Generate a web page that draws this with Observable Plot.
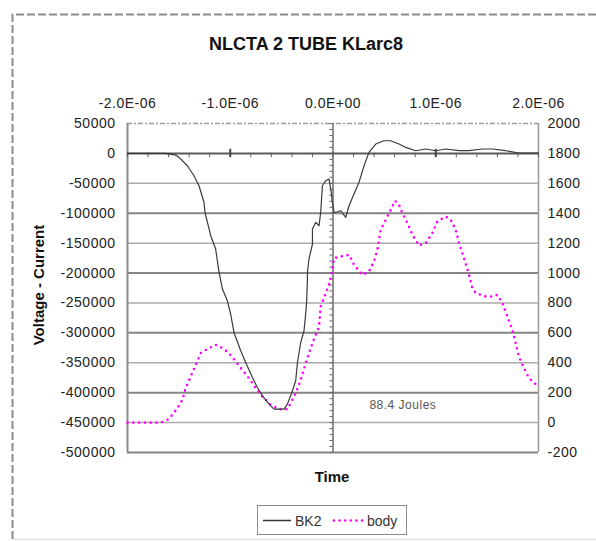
<!DOCTYPE html>
<html><head><meta charset="utf-8">
<script src="https://cdn.jsdelivr.net/npm/d3@7"></script>
<script src="https://cdn.jsdelivr.net/npm/@observablehq/plot@0.6"></script>
<style>
html,body{margin:0;padding:0;background:#fff;}
#wrap{position:relative;width:596px;height:541px;overflow:hidden;font-family:"Liberation Sans",Arial,sans-serif;color:#111;}
#wrap > svg{position:absolute;left:0;top:0;}
.abs{position:absolute;white-space:nowrap;}
#chart svg text{letter-spacing:0.5px;}
</style></head><body>
<div id="wrap">
  <svg id="border" width="596" height="541" style="position:absolute;left:0;top:0">
    <path d="M12.5,539 L12.5,14.5 L600,14.5" fill="none" stroke="#8c8c8c" stroke-width="2" stroke-dasharray="8 3"/>
    <path d="M12.5,539.5 L600,539.5" fill="none" stroke="#dcdcdc" stroke-width="1"/>
  </svg>
  <div id="chart"></div>
  <div class="abs" id="title" style="left:306px;top:34px;transform:translateX(-50%);font-weight:bold;font-size:18px;">NLCTA 2 TUBE KLarc8</div>
  <div class="abs" id="ylab" style="left:38px;top:285px;transform:translate(-50%,-50%) rotate(-90deg);font-weight:bold;font-size:15px;">Voltage - Current</div>
  <div class="abs" id="xlab" style="left:332px;top:468px;transform:translateX(-50%);font-weight:bold;font-size:15px;">Time</div>
  <div class="abs" id="legend" style="left:257px;top:505px;width:148px;height:28px;border:1.5px solid #8a8a8a;font-size:14px;">
    <svg width="148" height="28" style="position:absolute;left:0;top:0">
      <line x1="5" x2="33" y1="14.5" y2="14.5" stroke="#333" stroke-width="1.5"/>
      <line x1="76" x2="105" y1="14.5" y2="14.5" stroke="#ff00ff" stroke-width="2.6" stroke-dasharray="0 5.6" stroke-linecap="round"/>
      <text x="37" y="19.5" font-size="14" fill="#333">BK2</text>
      <text x="109" y="19.5" font-size="14" fill="#333">body</text>
    </svg>
  </div>
</div>
<script>
// ---- data (time in microseconds) ----
const bk2Time = [-2.0,-1.774,-1.63,-1.528,-1.499,-1.417,-1.353,-1.304,-1.255,-1.246,-1.19,-1.142,-1.109,-1.076,-1.028,-0.996,-0.964,-0.898,-0.85,-0.784,-0.736,-0.687,-0.623,-0.574,-0.477,-0.444,-0.412,-0.395,-0.363,-0.346,-0.314,-0.282,-0.266,-0.256,-0.249,-0.249,-0.234,-0.2,-0.2,-0.168,-0.136,-0.12,-0.103,-0.071,-0.039,-0.022,-0.006,0.01,0.026,0.075,0.124,0.156,0.204,0.253,0.302,0.35,0.416,0.496,0.562,0.642,0.707,0.805,0.902,1.0,1.097,1.226,1.324,1.454,1.551,1.681,1.81,2.0];
const bk2Value = [0,0,0,-3000,-6700,-20600,-37300,-54000,-82000,-98700,-137600,-159900,-199000,-226700,-246300,-268600,-299300,-329900,-349500,-374600,-391300,-405200,-419100,-427400,-427400,-419100,-405200,-396800,-380100,-349500,-316100,-296500,-268600,-246300,-212900,-199000,-176600,-151500,-126400,-115400,-120900,-98700,-54000,-45700,-42800,-59500,-81900,-98700,-98700,-95800,-107000,-87500,-67900,-48500,-20600,1700,15700,21200,21200,15700,10000,4500,7400,4500,7400,4500,4500,7400,7400,4500,700,700];

const bodyTime = [-2.0,-1.677,-1.612,-1.563,-1.514,-1.466,-1.434,-1.385,-1.336,-1.288,-1.207,-1.142,-1.076,-1.012,-0.947,-0.882,-0.818,-0.752,-0.687,-0.606,-0.526,-0.444,-0.412,-0.363,-0.314,-0.266,-0.2,-0.136,-0.12,-0.071,-0.039,-0.022,0.01,0.075,0.156,0.204,0.286,0.35,0.399,0.432,0.464,0.513,0.562,0.603,0.642,0.675,0.724,0.773,0.837,0.902,0.967,1.016,1.097,1.146,1.194,1.226,1.275,1.324,1.357,1.389,1.486,1.551,1.6,1.649,1.697,1.746,1.778,1.81,1.859,1.908,1.99];
const bodyValue = [0,0,18,52,96,152,230,308,386,464,498,520,498,464,408,352,297,230,174,118,90,90,130,197,286,397,531,642,776,866,921,966,1100,1110,1122,1055,988,1010,1077,1155,1289,1356,1423,1483,1456,1401,1334,1256,1184,1200,1267,1345,1378,1356,1289,1200,1100,988,899,866,843,843,854,799,709,620,531,441,364,297,245];

const timeTicks = [-2e-6, -1e-6, 0, 1e-6, 2e-6];
const leftTicks = [50000,0,-50000,-100000,-150000,-200000,-250000,-300000,-350000,-400000,-450000,-500000];
const rightTicks = [2000,1800,1600,1400,1200,1000,800,600,400,200,0,-200];
const annotation = [{t: 0.68e-6, v: -421000, label: "88.4 Joules"}];

// ---- tables ----
const US = 1e-6;
const bk2 = bk2Time.map((t,i) => ({t: t*US, v: bk2Value[i]}));
const leftMin = leftTicks[leftTicks.length-1], leftMax = leftTicks[0];
const rightMin = rightTicks[rightTicks.length-1], rightMax = rightTicks[0];
const toLeft = b => leftMin + (b - rightMin) * (leftMax - leftMin) / (rightMax - rightMin);
const toRight = v => rightMin + (v - leftMin) * (rightMax - rightMin) / (leftMax - leftMin);
const body = bodyTime.map((t,i) => ({t: t*US, v: toLeft(bodyValue[i])}));

function fmtE(d){
  if (Math.abs(d) < 1e-15) return "0.0E+00";
  const e = Math.floor(Math.log10(Math.abs(d)) + 1e-9);
  const m = d / Math.pow(10, e);
  return m.toFixed(1) + "E" + (e < 0 ? "-" : "+") + String(Math.abs(e)).padStart(2, "0");
}

const darkGrid = leftTicks.filter(d => d < 0 && d % 100000 === 0);
const lightGrid = leftTicks.filter(d => d < 0 && d % 100000 !== 0);
const minorY = d3.range(leftMin, leftMax + 1, 10000);
const minorX = d3.range(-20, 21, 2).map(k => k * 0.1 * US);

const chart = Plot.plot({
  width: 596, height: 541,
  marginLeft: 127, marginRight: 58, marginTop: 123, marginBottom: 89,
  style: {fontFamily: "'Liberation Sans', Arial, sans-serif", fontSize: "14px", color: "#222", background: "transparent"},
  x: {domain: [timeTicks[0], timeTicks[timeTicks.length-1]]},
  y: {domain: [leftMin, leftMax]},
  marks: [
    Plot.ruleY(lightGrid, {stroke: "#ababab", strokeWidth: 1.5}),
    Plot.ruleY(darkGrid, {stroke: "#858585", strokeWidth: 2}),
    Plot.ruleY([leftMax], {stroke: "#9a9a9a", strokeWidth: 1.5, strokeDasharray: "5 2 2 2"}),
    Plot.ruleX([timeTicks[0]], {stroke: "#8a8a8a", strokeWidth: 2}),
    Plot.ruleX([timeTicks[timeTicks.length-1]], {stroke: "#9a9a9a", strokeWidth: 1.5}),
    Plot.ruleX([0], {stroke: "#6a6a6a", strokeWidth: 1.5}),
    Plot.ruleY(minorY, {x1: -0.03 * US, x2: 0, stroke: "#6a6a6a", strokeWidth: 1}),
    Plot.ruleY([0], {stroke: "#5a5a5a", strokeWidth: 2}),
    Plot.ruleX(minorX, {y1: 0, y2: -7000, stroke: "#5a5a5a", strokeWidth: 1}),
    Plot.ruleX([-1e-6, 1e-6], {y1: 7000, y2: -7000, stroke: "#444", strokeWidth: 2}),
    Plot.line(body, {x: "t", y: "v", stroke: "#ff00ff", strokeWidth: 2.6, strokeDasharray: "0 5.8", strokeLinecap: "round"}),
    Plot.line(bk2, {x: "t", y: "v", stroke: "#3a3a3a", strokeWidth: 1.2}),
    Plot.text(annotation, {x: "t", y: "v", text: "label", fill: "#555", fontSize: 12}),
    Plot.axisX({anchor: "top", ticks: timeTicks, tickFormat: fmtE, tickSize: 0, tickPadding: 16, label: null}),
    Plot.axisY({anchor: "left", ticks: leftTicks, tickFormat: d => String(d), tickSize: 0, tickPadding: 12, label: null}),
    Plot.axisY({anchor: "right", ticks: rightTicks.map(toLeft), tickFormat: d => String(Math.round(toRight(d))), tickSize: 0, tickPadding: 9, label: null})
  ]
});
document.getElementById("chart").appendChild(chart);
</script>
</body></html>
